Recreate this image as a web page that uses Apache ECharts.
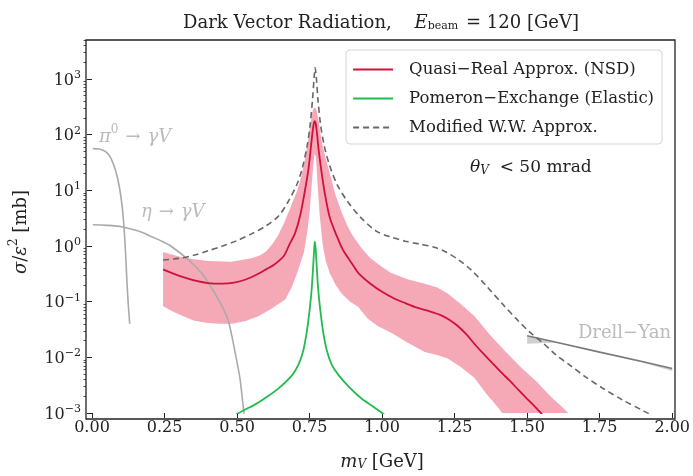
<!DOCTYPE html>
<html>
<head>
<meta charset="utf-8">
<script src="https://cdn.jsdelivr.net/npm/echarts@6/dist/echarts.min.js"></script>
<style>
  html, body { margin: 0; padding: 0; background: #fff; }
  #chart { width: 693px; height: 476px; }
</style>
</head>
<body>
<div id="chart"></div>
<script>
// quasi-real approx (NSD), central line
var qrX = [0.245, 0.28, 0.32, 0.36, 0.40, 0.45, 0.49, 0.53, 0.57, 0.60, 0.63, 0.661, 0.68, 0.70, 0.718, 0.735,
  0.747, 0.756, 0.762, 0.767, 0.771, 0.776, 0.781, 0.792, 0.804, 0.82, 0.844, 0.865, 0.884, 0.90, 0.92, 0.96,
  1.0, 1.04, 1.08, 1.12, 1.16, 1.20, 1.23, 1.26, 1.29, 1.32, 1.35, 1.38, 1.41, 1.44, 1.47, 1.50, 1.53,
  1.555, 1.57];
var qrY = [0.38, 0.32, 0.27, 0.235, 0.215, 0.21, 0.22, 0.25, 0.31, 0.38, 0.47, 0.66, 1.05, 1.7, 3.6, 10.5,
  26, 70, 130, 175, 160, 100, 55, 20, 8, 3.2, 1.5, 0.85, 0.6, 0.45, 0.32, 0.21,
  0.15, 0.115, 0.094, 0.078, 0.068, 0.058, 0.048, 0.037, 0.026, 0.017, 0.0115, 0.0079, 0.0054, 0.0038, 0.0026, 0.0018, 0.00125,
  0.0009, 0.0007];
// uncertainty band edges
var qrHiX = [0.245, 0.30, 0.35, 0.40, 0.48, 0.55, 0.58, 0.60, 0.62, 0.64, 0.661, 0.685, 0.707, 0.722, 0.735, 0.745, 0.752,
  0.761, 0.767, 0.773, 0.78, 0.792, 0.805, 0.821, 0.84, 0.861, 0.88, 0.90, 0.93, 0.96, 1.0, 1.03,
  1.09, 1.147, 1.19, 1.226, 1.27, 1.318, 1.37, 1.43, 1.48, 1.534, 1.58, 1.62, 1.65];
var qrHi = [0.78, 0.65, 0.58, 0.54, 0.52, 0.6, 0.68, 0.8, 1.05, 1.5, 2.5, 5, 9.7, 18, 38, 80, 146,
  270, 310, 290, 190, 74, 38, 19, 8, 4, 2.3, 1.5, 0.9, 0.6, 0.42, 0.33,
  0.25, 0.21, 0.18, 0.14, 0.092, 0.055, 0.026, 0.012, 0.0065, 0.0036, 0.002, 0.0013, 0.0009];
var qrLoX = [0.245, 0.28, 0.313, 0.35, 0.393, 0.44, 0.483, 0.53, 0.575, 0.62, 0.667, 0.69, 0.71, 0.73,
  0.742, 0.75, 0.756, 0.762, 0.767, 0.772, 0.778, 0.785, 0.795, 0.805, 0.82, 0.84, 0.86, 0.89, 0.918, 0.95, 0.986,
  1.03, 1.09, 1.147, 1.19, 1.226, 1.27, 1.318, 1.36, 1.40, 1.42];
var qrLo = [0.083, 0.066, 0.055, 0.046, 0.042, 0.040, 0.040, 0.045, 0.055, 0.075, 0.11, 0.19, 0.36, 0.75,
  1.8, 4, 10, 25, 45, 40, 12, 3.5, 1.1, 0.56, 0.32, 0.2, 0.14, 0.1, 0.08, 0.05, 0.036,
  0.028, 0.018, 0.0125, 0.011, 0.0095, 0.0068, 0.0043, 0.0022, 0.00126, 0.0009];
// pomeron exchange (elastic)
var pomX = [0.49, 0.52, 0.56, 0.60, 0.644, 0.69, 0.712, 0.728, 0.74, 0.75, 0.757, 0.762, 0.766, 0.768,
  0.771, 0.775, 0.78, 0.787, 0.797, 0.81, 0.826, 0.85, 0.89, 0.93, 0.97, 1.012];
var pomY = [0.0009, 0.0011, 0.0014, 0.0019, 0.0028, 0.0048, 0.0075, 0.013, 0.028, 0.07, 0.16, 0.4, 0.9, 1.2,
  0.9, 0.4, 0.16, 0.07, 0.028, 0.013, 0.0075, 0.0048, 0.0028, 0.0018, 0.0013, 0.0009];
// modified W.W. approx
var wwX = [0.245, 0.30, 0.35, 0.40, 0.45, 0.50, 0.55, 0.60, 0.644, 0.678, 0.707, 0.724, 0.741, 0.752, 0.76,
  0.766, 0.769, 0.773, 0.779, 0.788, 0.80, 0.818, 0.845, 0.88, 0.925, 0.98, 1.03, 1.08, 1.13, 1.18,
  1.22, 1.26, 1.305, 1.36, 1.42, 1.47, 1.51, 1.55, 1.60, 1.648, 1.70, 1.76, 1.83, 1.90, 1.93];
var wwY = [0.56, 0.6, 0.68, 0.82, 1.0, 1.25, 1.65, 2.3, 3.5, 6.5, 13, 24, 60, 150, 420,
  1100, 1600, 1100, 420, 150, 65, 29, 12.7, 6.4, 3.3, 1.85, 1.45, 1.22, 1.08, 0.95,
  0.78, 0.58, 0.38, 0.19, 0.085, 0.045, 0.028, 0.019, 0.011, 0.0072, 0.0045, 0.0028, 0.0017, 0.0011, 0.0009];
// meson decays
var pi0X = [0.003, 0.025, 0.048, 0.065, 0.082, 0.095, 0.105, 0.112, 0.117, 0.121, 0.125, 0.13];
var pi0Y = [56, 55, 49, 38, 22, 11, 4.6, 1.6, 0.55, 0.2, 0.09, 0.04];
var etaX = [0.003, 0.05, 0.105, 0.16, 0.208, 0.243, 0.276, 0.333, 0.379, 0.408, 0.44, 0.47, 0.495, 0.51, 0.524, 0.53];
var etaY = [2.4, 2.35, 2.2, 1.85, 1.45, 1.2, 0.96, 0.56, 0.32, 0.19, 0.1, 0.045, 0.011, 0.0042, 0.001, 0.0007];
// drell-yan
var dyX = [1.5, 1.6, 1.75, 1.9, 2.0];
var dyY = [0.0245, 0.0186, 0.0124, 0.0083, 0.0063];
var dyLo = [0.0175, 0.0184, 0.0122, 0.0080, 0.0057];

var xTicks = [0, 0.25, 0.5, 0.75, 1.0, 1.25, 1.5, 1.75, 2.0];
var yExps = [-3, -2, -1, 0, 1, 2, 3];
var minorMant = [2, 3, 4, 5, 6, 7, 8, 9];
var yMin = -3, yMax = 3.7;

var serif = '"DejaVu Serif", serif';
var minorTicks = [];
yExps.forEach(function (e) {
  minorMant.forEach(function (m) {
    var v = Math.log10(m) + e;
    if (v < yMax) minorTicks.push(v);
  });
});

function pts(xs, ys) {
  return xs.map(function (x, i) { return [x, Math.log10(ys[i])]; });
}

function bandSeries(name, upX, up, loX, lo, color, z) {
  return {
    type: 'custom', name: name, silent: true, z: z, clip: true,
    data: [[upX[0], Math.log10(up[0])]],
    renderItem: function (params, api) {
      var p = [];
      for (var i = 0; i < upX.length; i++) p.push(api.coord([upX[i], Math.log10(up[i])]));
      for (var j = loX.length - 1; j >= 0; j--) p.push(api.coord([loX[j], Math.log10(lo[j])]));
      return { type: 'polygon', shape: { points: p }, style: { fill: color } };
    }
  };
}

function txt(color, size) {
  return {
    t: { fontFamily: serif, fontSize: size, fill: color, color: color, lineHeight: size + 4, verticalAlign: 'bottom' },
    sp: { fontFamily: serif, fontSize: size, fill: color, color: color, lineHeight: size + 4, verticalAlign: 'bottom', padding: [0, 7, 0, 7] },
    i: { fontFamily: serif, fontStyle: 'italic', fontSize: size, fill: color, color: color, lineHeight: size + 4, verticalAlign: 'bottom' },
    sub: { fontFamily: serif, fontStyle: 'italic', fontSize: Math.round(size * 0.68), fill: color, color: color, lineHeight: size - 1, verticalAlign: 'bottom' },
    subr: { fontFamily: serif, fontSize: Math.round(size * 0.62), fill: color, color: color, lineHeight: size - 1, verticalAlign: 'bottom', padding: [0, 2, 0, 0] },
    sup: { fontFamily: serif, fontSize: Math.round(size * 0.68), fill: color, color: color, lineHeight: 12, verticalAlign: 'top' }
  };
}

var chart = echarts.init(document.getElementById('chart'), null, { renderer: 'canvas' });

var option = {
  animation: false,
  backgroundColor: '#fff',
  title: {
    text: '{t|Dark Vector Radiation,    }{i|E}{subr|beam}{t| = 120 [GeV]}',
    left: 178, top: 5,
    textStyle: { fontWeight: 'normal', rich: txt('#222', 18) }
  },
  grid: { left: 92, right: 18, top: 40, bottom: 57 },
  legend: {
    orient: 'vertical', left: 346, top: 50,
    data: ['Quasi−Real Approx. (NSD)', 'Pomeron−Exchange (Elastic)', 'Modified W.W. Approx.'],
    itemWidth: 40, itemHeight: 14, itemGap: 12,
    padding: [11, 8, 8, 6],
    itemStyle: { opacity: 0 },
    lineStyle: { width: 2.2 },
    backgroundColor: '#fff', borderColor: '#d4d4d4', borderWidth: 1, borderRadius: 4,
    textStyle: { fontFamily: serif, fontSize: 16.5, color: '#222', padding: [0, 0, 0, 11] }
  },
  xAxis: {
    type: 'value', min: 0, max: 2, interval: 0.25,
    name: '{i|m}{sub|V}{t| [GeV]}', nameLocation: 'middle', nameGap: 36,
    nameTextStyle: { rich: txt('#222', 18) },
    axisLine: { show: false, onZero: false },
    axisTick: { show: true, inside: false, length: 5, lineStyle: { color: '#222', width: 1 } },
    axisLabel: {
      customValues: xTicks, margin: 7,
      fontFamily: serif, fontSize: 16, color: '#222',
      formatter: function (v) { return v.toFixed(2); }
    },
    splitLine: { show: false }
  },
  yAxis: [{
    type: 'value', min: yMin, max: yMax, position: 'left', offset: 6,
    axisLine: { show: false },
    axisTick: { show: true, customValues: yExps, length: 5, lineStyle: { color: '#222', width: 1 } },
    axisLabel: {
      customValues: yExps, margin: 5,
      formatter: function (v) {
        return '{b|10}{s|' + (v < 0 ? '−' : '') + Math.abs(v) + '}';
      },
      rich: {
        b: { fontFamily: serif, fontSize: 16, color: '#222', lineHeight: 19, verticalAlign: 'bottom' },
        s: { fontFamily: serif, fontSize: 11, color: '#222', lineHeight: 12, verticalAlign: 'top' }
      }
    },
    splitLine: { show: false }
  }, {
    type: 'value', min: yMin, max: yMax, position: 'left', offset: 6,
    axisLine: { show: false },
    axisTick: { show: true, customValues: minorTicks, length: 2.5, lineStyle: { color: '#222', width: 0.8 } },
    axisLabel: { show: false },
    splitLine: { show: false }
  }],
  series: [
    bandSeries('qrBand', qrHiX, qrHi, qrLoX, qrLo, '#f5a9b7', 1),
    bandSeries('dyBand', dyX, dyY, dyX, dyLo, '#cfcfcf', 1),
    {
      name: 'π0', type: 'line', data: pts(pi0X, pi0Y), symbol: 'none', smooth: 0.3, z: 2,
      lineStyle: { color: '#aaaaaa', width: 1.6 }
    },
    {
      name: 'η', type: 'line', data: pts(etaX, etaY), symbol: 'none', smooth: 0.3, z: 2,
      lineStyle: { color: '#aaaaaa', width: 1.6 }
    },
    {
      name: 'Drell−Yan', type: 'line', data: pts(dyX, dyY), symbol: 'none', z: 2,
      lineStyle: { color: '#7a7a7a', width: 1.6 }
    },
    {
      name: 'Quasi−Real Approx. (NSD)', type: 'line', data: pts(qrX, qrY), symbol: 'none', smooth: 0.3, z: 4,
      lineStyle: { color: '#d1103c', width: 1.8 }, itemStyle: { color: '#d1103c' }
    },
    {
      name: 'Pomeron−Exchange (Elastic)', type: 'line', data: pts(pomX, pomY), symbol: 'none', smooth: 0.3, z: 4,
      lineStyle: { color: '#22bb4f', width: 1.8 }, itemStyle: { color: '#22bb4f' }
    },
    {
      name: 'Modified W.W. Approx.', type: 'line', data: pts(wwX, wwY), symbol: 'none', smooth: 0.3, z: 3,
      lineStyle: { color: '#666666', width: 1.6, type: [6, 4] }, itemStyle: { color: '#666666' }
    }
  ],
  graphic: [
    {
      type: 'rect', z: 100, silent: true,
      shape: { x: 86, y: 40, width: 589, height: 379 },
      style: { fill: 'none', stroke: '#222', lineWidth: 1.3 }
    },
    {
      type: 'text', x: 19, y: 232, rotation: Math.PI / 2, z: 100,
      style: {
        text: '{i|σ}{t|/}{i|ε}{sup|2}{t| [mb]}', align: 'center', verticalAlign: 'middle',
        rich: txt('#222', 18)
      }
    },
    {
      type: 'text', x: 99, y: 135, z: 100,
      style: {
        text: '{i|π}{sup|0}{sp|→}{i|γV}', verticalAlign: 'middle',
        rich: txt('#bbbbbb', 18)
      }
    },
    {
      type: 'text', x: 141, y: 210, z: 100,
      style: {
        text: '{i|η}{sp|→}{i|γV}', verticalAlign: 'middle',
        rich: txt('#bbbbbb', 18)
      }
    },
    {
      type: 'text', x: 671, y: 333, z: 100,
      style: {
        text: 'Drell−Yan', align: 'right', verticalAlign: 'middle',
        fontFamily: serif, fontSize: 18, fill: '#bbbbbb'
      }
    },
    {
      type: 'text', x: 470, y: 166, z: 100,
      style: {
        text: '{i|θ}{sub|V}{t|  < 50 mrad}', verticalAlign: 'middle',
        rich: txt('#222', 17)
      }
    }
  ]
};

chart.setOption(option);
</script>
</body>
</html>
